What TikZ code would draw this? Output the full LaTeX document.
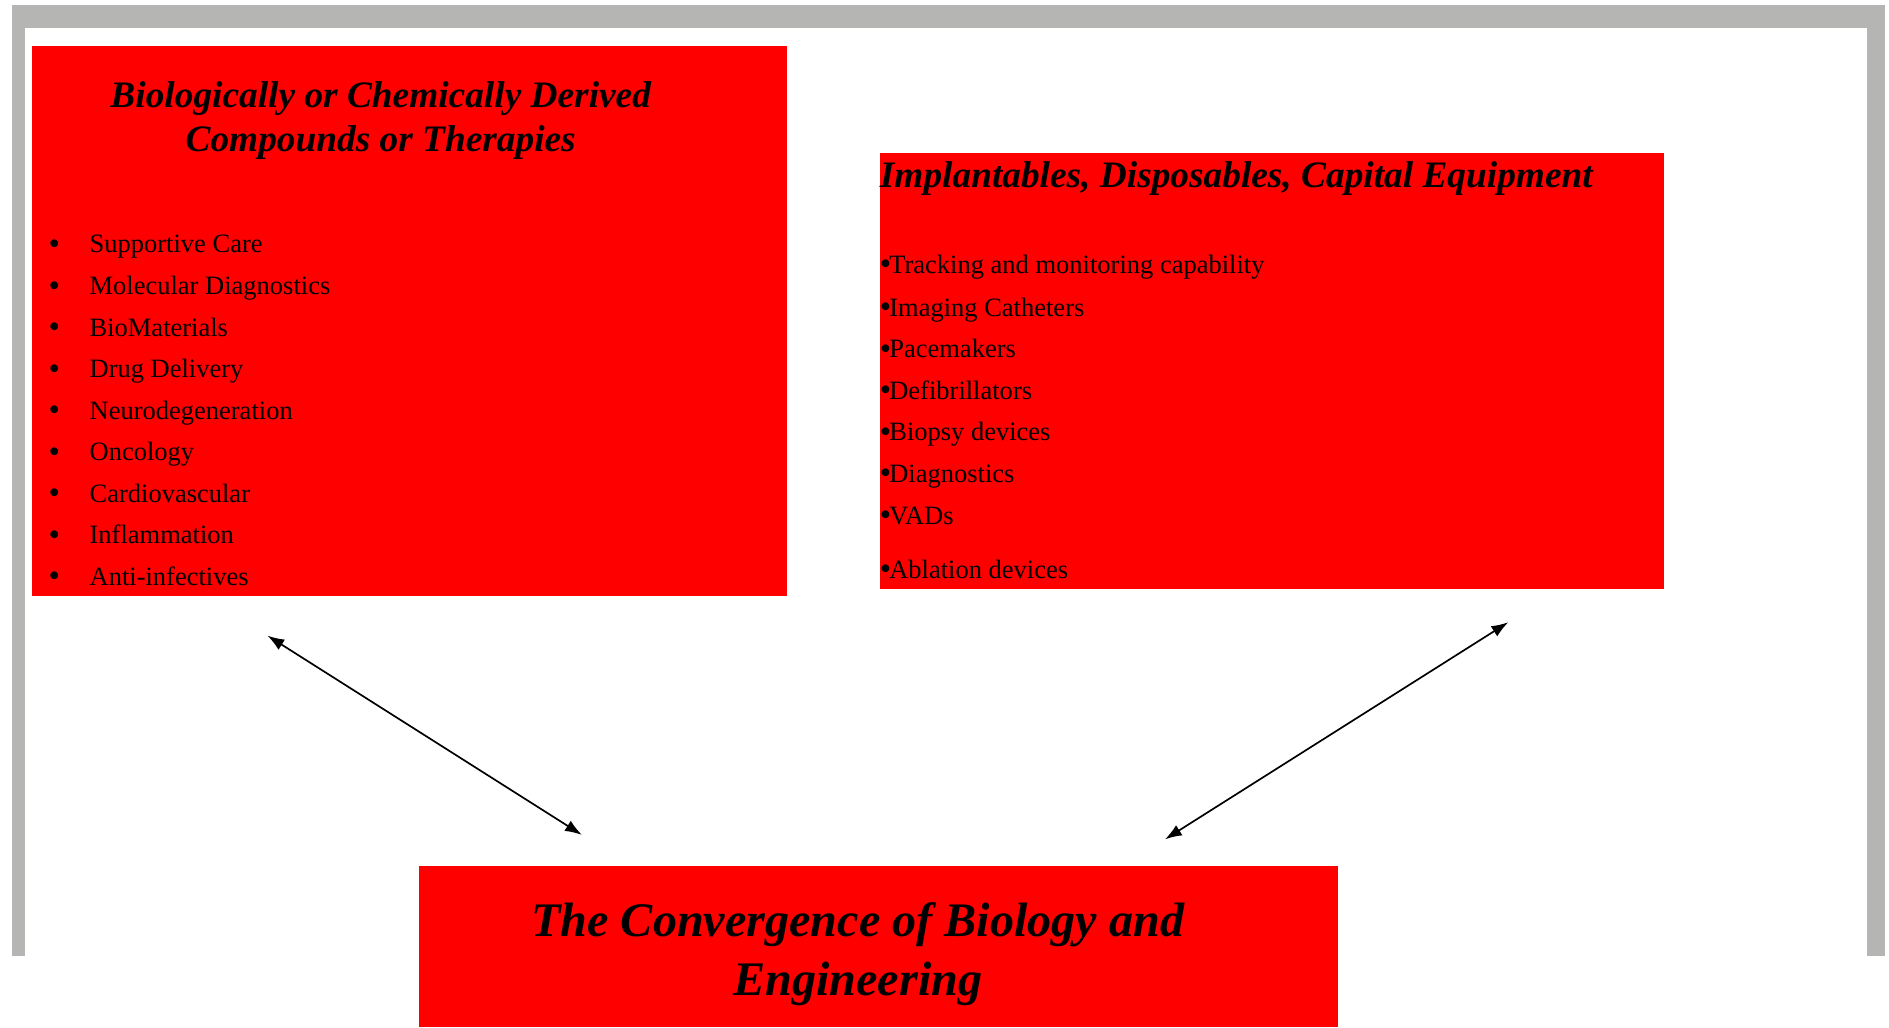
\documentclass[tikz,border=0pt]{standalone}
\usepackage{fontspec}
\setmainfont{Liberation Serif}
\usetikzlibrary{fit,arrows.meta}
\definecolor{framegray}{HTML}{B5B6B3}
\definecolor{boxred}{HTML}{FF0000}
\newcommand{\bul}{{\fontsize{13.5}{13}\selectfont\raisebox{-0.6pt}{•}}}
\newcommand{\rbul}{\makebox[3.9pt][l]{\bul}}
\begin{document}
\begin{tikzpicture}[x=0.5pt,y=-0.5pt,
  redbox/.style={fill=boxred, draw=none, inner sep=0pt},
  graybar/.style={fill=framegray, draw=none},
  item/.style={font=\fontsize{11}{13}\selectfont, inner sep=0pt, anchor=base west},
  ttl/.style={font=\fontsize{15.5}{19}\selectfont\bfseries\itshape, inner sep=0pt, anchor=base},
  bigttl/.style={font=\fontsize{20}{24}\selectfont\bfseries\itshape, inner sep=0pt, anchor=base},
  link/.style={{Latex[length=7pt,width=5pt]}-{Latex[length=7pt,width=5pt]}, line width=0.7pt}]
\useasboundingbox (0,0) rectangle (1568,852.5);
\fill[white] (0,0) rectangle (1568,852.5);
% frame
\fill[graybar] (10,4.3) rectangle (1565,23);
\fill[graybar] (10,4.3) rectangle (21,793.6);
\fill[graybar] (1550,4.3) rectangle (1565,793.6);
% boxes
\node[redbox, fit={(26.5,38) (653.5,495)}] (bio) {};
\node[redbox, fit={(730.2,127) (1381.5,489)}] (eng) {};
\node[redbox, fit={(348,718.8) (1111,852.5)}] (conv) {};
% left box text
\node[ttl] (bioT1) at (316,89) {Biologically or Chemically Derived};
\node[ttl] (bioT2) at (316,126) {Compounds or Therapies};
\node[item] (l1) at (40,210) {\hbox to 17pt{\bul\hfil}Supportive Care};
\node[item] (l2) at (40,244.5) {\hbox to 17pt{\bul\hfil}Molecular Diagnostics};
\node[item] (l3) at (40,279) {\hbox to 17pt{\bul\hfil}BioMaterials};
\node[item] (l4) at (40,313.5) {\hbox to 17pt{\bul\hfil}Drug Delivery};
\node[item] (l5) at (40,348) {\hbox to 17pt{\bul\hfil}Neurodegeneration};
\node[item] (l6) at (40,382.5) {\hbox to 17pt{\bul\hfil}Oncology};
\node[item] (l7) at (40,417) {\hbox to 17pt{\bul\hfil}Cardiovascular};
\node[item] (l8) at (40,451.5) {\hbox to 17pt{\bul\hfil}Inflammation};
\node[item] (l9) at (40,486) {\hbox to 17pt{\bul\hfil}Anti-infectives};
% right box text
\node[ttl, anchor=base west] (engT) at (730,156) {Implantables, Disposables, Capital Equipment};
\node[item] (r1) at (730,227) {\rbul Tracking and monitoring capability};
\node[item] (r2) at (730,262.5) {\rbul Imaging Catheters};
\node[item] (r3) at (730,297) {\rbul Pacemakers};
\node[item] (r4) at (730,331.5) {\rbul Defibrillators};
\node[item] (r5) at (730,366) {\rbul Biopsy devices};
\node[item] (r6) at (730,400.5) {\rbul Diagnostics};
\node[item] (r7) at (730,435) {\rbul VADs};
\node[item] (r8) at (730,480) {\rbul Ablation devices};
% bottom box text
\node[bigttl] (convT1) at (712,777.5) {The Convergence of Biology and};
\node[bigttl] (convT2) at (712,826) {Engineering};
% connectors
\coordinate (a1) at (222,527.6);
\coordinate (a2) at (483,693);
\coordinate (b1) at (1252,516.5);
\coordinate (b2) at (967,696.7);
\draw[link] (a1) -- (a2);
\draw[link] (b1) -- (b2);
\end{tikzpicture}
\end{document}
